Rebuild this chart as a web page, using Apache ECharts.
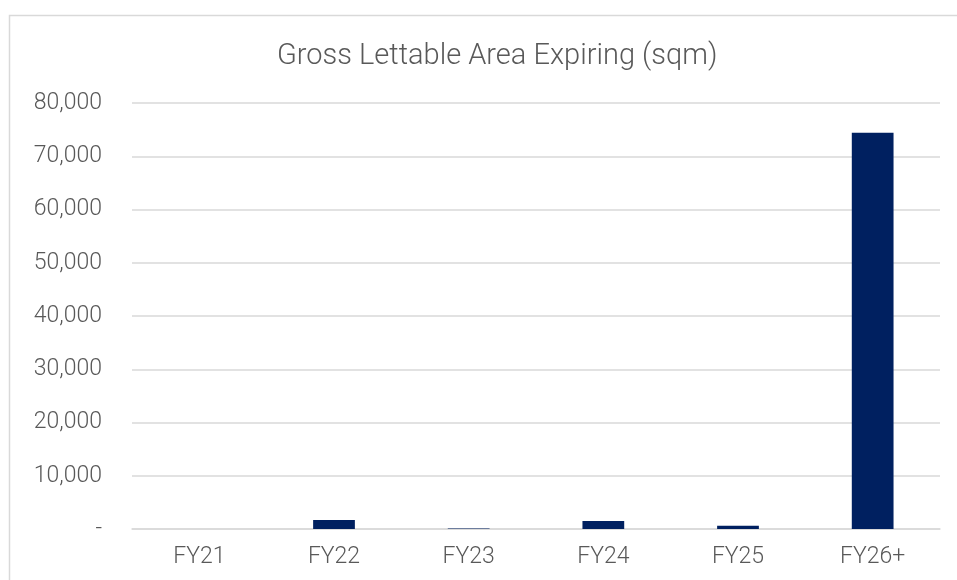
<!DOCTYPE html>
<html>
<head>
<meta charset="utf-8">
<script src="https://cdn.jsdelivr.net/npm/echarts@6/dist/echarts.min.js"></script>
<style>
  html, body { margin: 0; padding: 0; background: #fff; }
  #main { width: 957px; height: 580px; }
</style>
</head>
<body>
<div id="main"></div>
<script>
// data
const categories = ['FY21', 'FY22', 'FY23', 'FY24', 'FY25', 'FY26+'];
const glaExpiring = [0, 1700, 100, 1500, 600, 74400];
const yTicks = [0, 10000, 20000, 30000, 40000, 50000, 60000, 70000, 80000];

const chart = echarts.init(document.getElementById('main'));

const option = {
  backgroundColor: '#fff',
  animation: false,
  title: {
    text: 'Gross Lettable Area Expiring (sqm)',
    left: 272,
    top: 37,
    textStyle: {
      color: '#595959',
      fontFamily: 'Roboto',
      fontWeight: 300,
      fontSize: 29
    }
  },
  // chart area border (runs off the right and bottom edges)
  graphic: [{
    type: 'rect',
    shape: { x: 9.5, y: 15.5, width: 1000, height: 700 },
    style: { fill: 'none', stroke: '#d9d9d9', lineWidth: 1.5 },
    silent: true
  }],
  grid: { left: 132, right: 17, top: 103, bottom: 51 },
  xAxis: {
    type: 'category',
    data: categories,
    axisTick: { show: false },
    axisLine: { lineStyle: { color: '#d9d9d9', width: 1.5 } },
    axisLabel: {
      color: '#595959',
      fontFamily: 'Roboto',
      fontWeight: 300,
      fontSize: 23,
      margin: 17
    }
  },
  yAxis: {
    type: 'value',
    min: yTicks[0],
    max: yTicks[yTicks.length - 1],
    interval: 10000,
    axisLine: { show: false },
    axisTick: { show: false },
    splitLine: { lineStyle: { color: '#d9d9d9', width: 1.5 } },
    axisLabel: {
      color: '#595959',
      fontFamily: 'Roboto',
      fontWeight: 300,
      fontSize: 23,
      margin: 30,
      formatter: function (v) {
        return v === 0 ? '-' : v.toLocaleString('en-US');
      }
    }
  },
  series: [{
    name: 'GLA Expiring',
    type: 'bar',
    data: glaExpiring,
    barWidth: '31%',
    itemStyle: { color: '#002060' }
  }]
};

chart.setOption(option);
</script>
</body>
</html>
